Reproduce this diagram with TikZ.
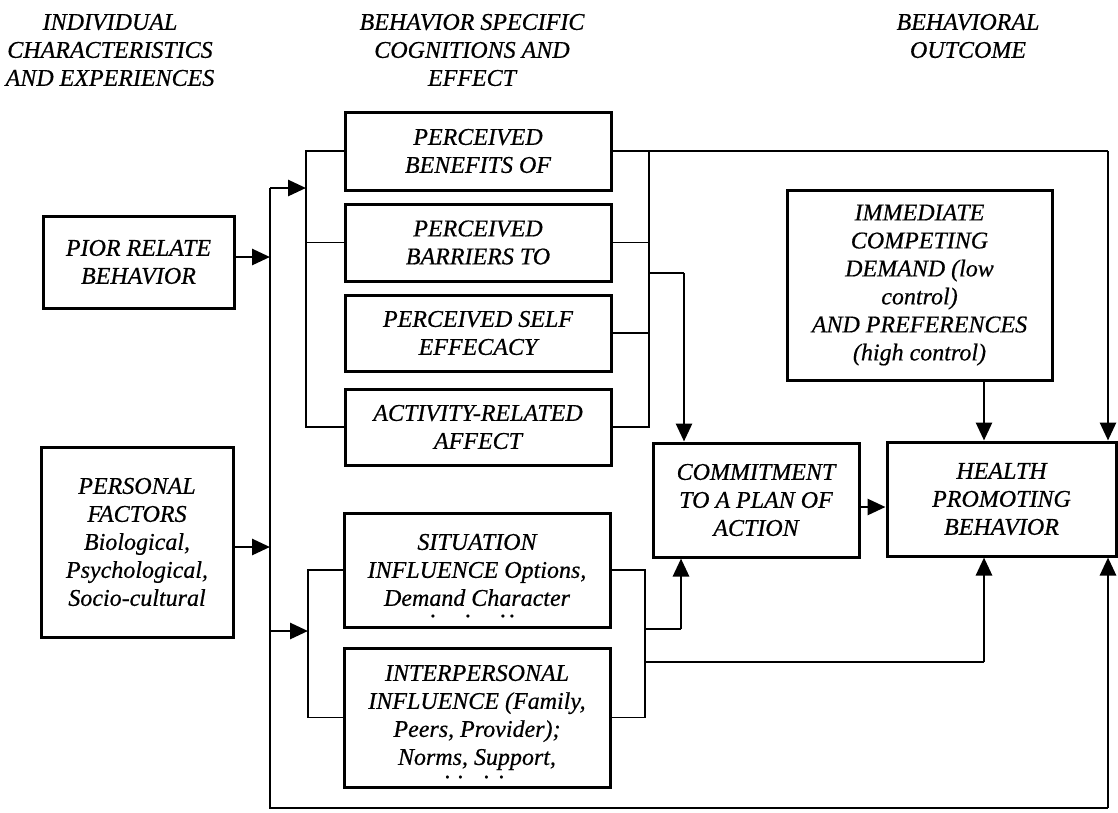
\documentclass[tikz,border=0pt]{standalone}
\usepackage{fontspec}
\setmainfont{Liberation Serif}
\newfontfamily\diagfont{Liberation Serif}[FakeBold=0.5]
\usetikzlibrary{arrows.meta}
\begin{document}
\begin{tikzpicture}[x=1pt,y=-1pt,
  txt/.style={align=center, inner sep=0pt, font=\diagfont\fontsize{24}{28}\selectfont\itshape},
  blk/.style={txt, draw, line width=3pt},
  thin/.style={line width=1.8pt},
  arw/.style={line width=2.8pt, -{Triangle[length=18pt,width=16pt]}}]
\useasboundingbox[fill=white] (0,0) rectangle (1118,812);

% headers
\node[txt] (h1) at (110,50) {INDIVIDUAL\\CHARACTERISTICS\\AND EXPERIENCES};
\node[txt] (h2) at (472,50) {BEHAVIOR SPECIFIC\\COGNITIONS AND\\EFFECT};
\node[txt] (h3) at (968,36) {BEHAVIORAL\\OUTCOME};

% boxes
\node[blk, minimum width=191pt, minimum height=92pt] (pior) at (138.5,262) {PIOR RELATE\\BEHAVIOR};
\node[blk, minimum width=192pt, minimum height=190pt] (personal) at (137,542) {PERSONAL\\FACTORS\\Biological,\\Psychological,\\Socio-cultural};
\node[blk, minimum width=266pt, minimum height=78pt] (benefits) at (478,151) {PERCEIVED\\BENEFITS OF};
\node[blk, minimum width=266pt, minimum height=77pt] (barriers) at (478,242.5) {PERCEIVED\\BARRIERS TO};
\node[blk, minimum width=266pt, minimum height=76pt] (selfeff) at (478,333) {PERCEIVED SELF\\EFFECACY};
\node[blk, minimum width=266pt, minimum height=76pt] (activity) at (478,427) {ACTIVITY-RELATED\\AFFECT};
\node[blk, minimum width=266pt, minimum height=114pt] (situation) at (477,570) {SITUATION\\INFLUENCE Options,\\Demand Character};
\node[txt] (sitdots) at (473,616) {.\hspace{29pt}.\hspace{29pt}.\hspace{3pt}.};
\node[blk, minimum width=266pt, minimum height=139pt] (interpersonal) at (477,717.5) {INTERPERSONAL\\INFLUENCE (Family,\\Peers, Provider);\\Norms, Support,};
\node[txt] (intdots) at (475,777) {.\hspace{7pt}.\hspace{20pt}.\hspace{9pt}.};
\node[blk, minimum width=206pt, minimum height=114pt] (commitment) at (756,500) {COMMITMENT\\TO A PLAN OF\\ACTION};
\node[blk, minimum width=229pt, minimum height=114pt] (health) at (1001.5,499) {HEALTH\\PROMOTING\\BEHAVIOR};
\node[blk, minimum width=265pt, minimum height=190pt] (immediate) at (919.5,285) {IMMEDIATE\\COMPETING\\DEMAND (low\\control)\\AND PREFERENCES\\(high control)};

% junction points
\coordinate (lvtop) at (270,188);
\coordinate (lvbot) at (270,808);
\coordinate (lbus) at (306,188);
\coordinate (rbus) at (649,273);
\coordinate (cbr) at (684,273);
\coordinate (rr) at (1108,151);
\coordinate (hbr) at (984,662);
\coordinate (sl) at (308,631);
\coordinate (sr) at (645,629);
\coordinate (cbr2) at (681,629);

% left side
\draw[arw] ([yshift=5pt]pior.east) -- ([yshift=5pt]pior.east -| lvtop);
\draw[arw] ([yshift=-5pt]personal.east) -- ([yshift=-5pt]personal.east -| lvtop);
\draw[thin] (lvtop) -- (lvbot) -- (lvbot -| rr);
\draw[arw] (lvbot -| rr) -- (rr |- health.south);
\draw[arw] (lvtop) -- (lbus);
\draw[thin] (benefits.west) -- (benefits.west -| lbus) -- (activity.west -| lbus) -- (activity.west);
\draw[thin] (barriers.west) -- (barriers.west -| lbus);
\draw[arw] (lvtop |- sl) -- (sl);
\draw[thin] (situation.west) -- (situation.west -| sl) -- (interpersonal.west -| sl) -- (interpersonal.west);

% upper right
\draw[thin] (benefits.east) -- (rr);
\draw[arw] (rr) -- (rr |- health.north);
\draw[thin] (benefits.east -| rbus) -- (activity.east -| rbus) -- (activity.east);
\draw[thin] (barriers.east) -- (barriers.east -| rbus);
\draw[thin] (selfeff.east) -- (selfeff.east -| rbus);
\draw[thin] (rbus) -- (cbr);
\draw[arw] (cbr) -- (cbr |- commitment.north);
\draw[arw] ([xshift=64.5pt]immediate.south) -- ([xshift=64.5pt]immediate.south |- health.north);
\draw[arw] ([yshift=-7pt]commitment.east) -- ([yshift=-7pt]commitment.east -| health.west);

% lower right
\draw[thin] (situation.east) -- (situation.east -| sr) -- (interpersonal.east -| sr) -- (interpersonal.east);
\draw[thin] (sr) -- (cbr2);
\draw[arw] (cbr2) -- (cbr2 |- commitment.south);
\draw[thin] (sr |- hbr) -- (hbr);
\draw[arw] (hbr) -- (hbr |- health.south);
\end{tikzpicture}
\end{document}
